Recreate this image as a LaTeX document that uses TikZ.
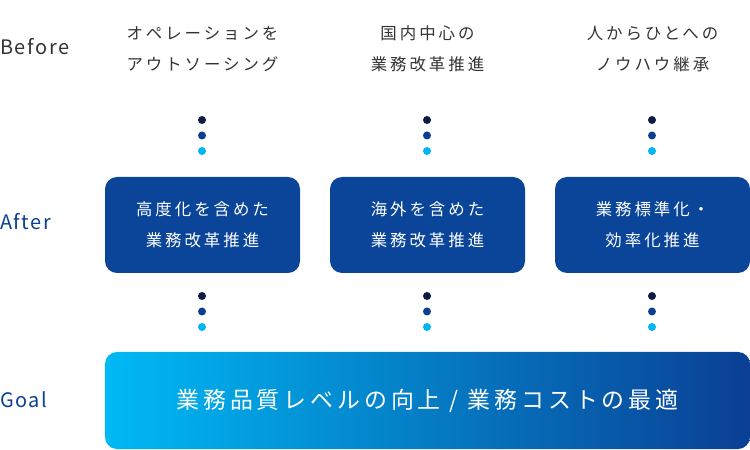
\documentclass[tikz,border=0pt]{standalone}
\usepackage{fontspec}
\newfontfamily\jp[LetterSpace=18]{Noto Sans CJK JP}
\newfontfamily\jpg[LetterSpace=17]{Noto Sans CJK JP}
\newfontfamily\lab[LetterSpace=8]{Noto Sans CJK JP}
\definecolor{boxblue}{HTML}{0A4599}
\definecolor{labgray}{HTML}{333333}
\definecolor{labblue}{HTML}{0A3F94}
\definecolor{dotA}{HTML}{101A48}
\definecolor{dotB}{HTML}{0B3F91}
\definecolor{dotC}{HTML}{00B6F2}
\definecolor{gradL}{HTML}{00B9F5}
\definecolor{gradR}{HTML}{0A3F94}
\tikzset{
  rowlabel/.style={anchor=west, inner sep=0pt, font=\lab\fontsize{20}{22}\selectfont},
  beforetxt/.style={align=center, text=labgray, inner sep=0pt, font=\jp\fontsize{16.5}{31.5}\selectfont},
  afterbox/.style={fill=boxblue, rounded corners=12bp, minimum width=195bp, minimum height=96bp, inner sep=0pt, align=center, text=white, font=\jp\fontsize{16.5}{31.5}\selectfont},
  goalbox/.style={left color=gradL, right color=gradR, rounded corners=12bp, minimum width=645bp, minimum height=97bp, inner sep=0pt, text=white, font=\jpg\fontsize{23}{26}\selectfont},
  dotn/.style={circle, minimum size=8bp, inner sep=0pt},
}
\begin{document}
\begin{tikzpicture}[x=1bp,y=-1bp]
\useasboundingbox (0,0) rectangle (750,450);
% row labels
\node[rowlabel, text=labgray] (lb) at (0,47) {Before};
\node[rowlabel, text=labblue] (la) at (0,222) {After};
\node[rowlabel, text=labblue] (lg) at (0,400) {Goal};
% before texts
\node[beforetxt] (b1) at (202.5,49) {オペレーションを\\アウトソーシング};
\node[beforetxt] (b2) at (427.5,49) {国内中心の\\業務改革推進};
\node[beforetxt] (b3) at (652.5,49) {人からひとへの\\ノウハウ継承};
% after boxes
\node[afterbox] (a1) at (202.5,225) {高度化を含めた\\業務改革推進};
\node[afterbox] (a2) at (427.5,225) {海外を含めた\\業務改革推進};
\node[afterbox] (a3) at (652.5,225) {業務標準化・\\効率化推進};
% goal
\node[goalbox] (g) at (427.5,400.5) {業務品質レベルの向上 / 業務コストの最適};
% dots
\foreach \x [count=\i] in {202,427,652}{
  \node[dotn, fill=dotA] (u\i a) at (\x,120) {};
  \node[dotn, fill=dotB] (u\i b) at (\x,135.5) {};
  \node[dotn, fill=dotC] (u\i c) at (\x,151) {};
  \node[dotn, fill=dotA] (d\i a) at (\x,296) {};
  \node[dotn, fill=dotB] (d\i b) at (\x,311.5) {};
  \node[dotn, fill=dotC] (d\i c) at (\x,327) {};
}
\end{tikzpicture}
\end{document}
